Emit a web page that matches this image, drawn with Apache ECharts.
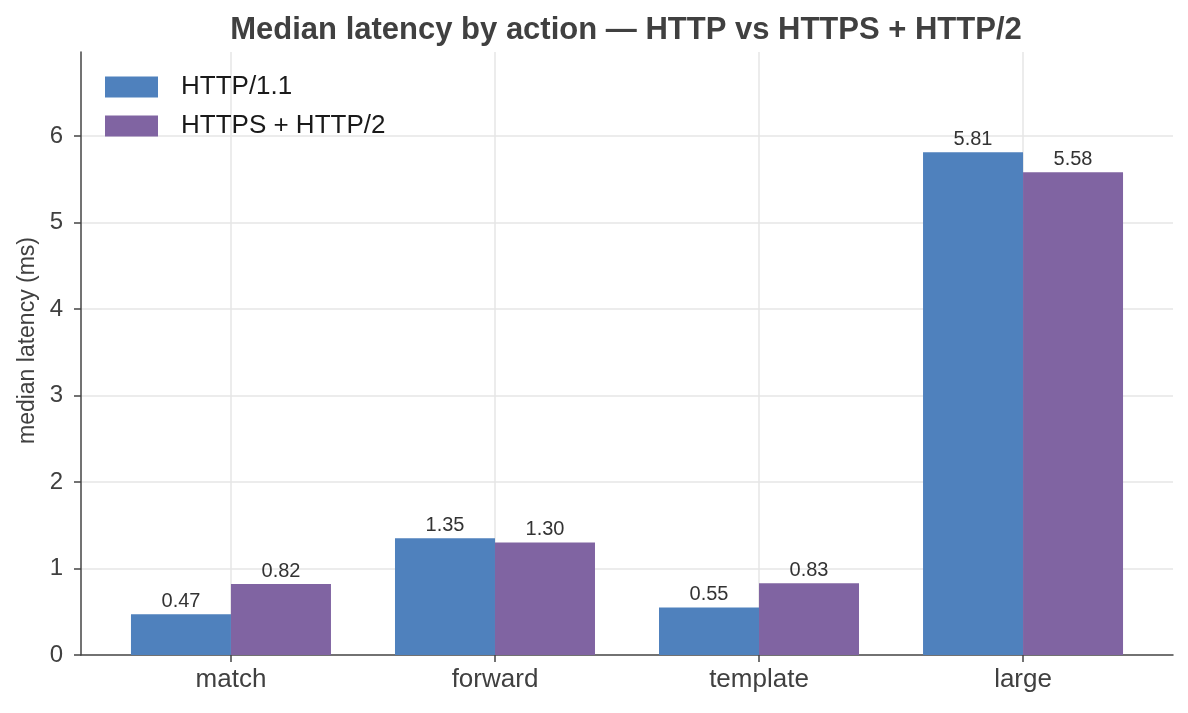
<!DOCTYPE html>
<html>
<head>
<meta charset="utf-8">
<script src="https://cdn.jsdelivr.net/npm/echarts@6/dist/echarts.min.js"></script>
<style>
  html, body { margin: 0; padding: 0; background: #fff; }
  #chart { width: 1188px; height: 713px; }
</style>
</head>
<body>
<div id="chart"></div>
<script>
// 数据
const categories = ['match', 'forward', 'template', 'large'];
const http11 = [0.47, 1.35, 0.55, 5.81];
const https2 = [0.82, 1.30, 0.83, 5.58];
const yTicks = [0, 1, 2, 3, 4, 5, 6];
const xTicks = [0, 1, 2, 3];

const textColor = '#404040';
const fontFamily = 'Liberation Sans, Arial, sans-serif';
const colorList = ['#4f81bd', '#8064a2'];

// 类目放在数值轴的 0..n-1 上
function toPoints(list) {
  return list.map((v, i) => [i, v]);
}

const chart = echarts.init(document.getElementById('chart'));

const labelOpt = {
  show: true,
  position: 'top',
  distance: 3,
  color: '#333',
  fontSize: 20,
  fontFamily: fontFamily,
  formatter: p => p.value[1].toFixed(2)
};

const option = {
  backgroundColor: '#fff',
  animation: false,
  color: colorList,
  title: {
    text: 'Median latency by action — HTTP vs HTTPS + HTTP/2',
    left: 626,
    textAlign: 'center',
    top: 15,
    padding: 0,
    textStyle: { color: textColor, fontSize: 31, fontWeight: 'bold', fontFamily: fontFamily }
  },
  legend: {
    orient: 'vertical',
    left: 105,
    top: 74,
    padding: 0,
    itemWidth: 53,
    itemHeight: 21,
    itemGap: 13,
    icon: 'rect',
    textStyle: { color: '#1a1a1a', fontSize: 26, lineHeight: 26, fontFamily: fontFamily, padding: [0, 0, 0, 18] },
    data: ['HTTP/1.1', 'HTTPS + HTTP/2']
  },
  grid: { left: 81, right: 15, top: 52, bottom: 58, containLabel: false },
  xAxis: {
    type: 'value',
    min: -0.568,
    max: 3.568,
    axisLine: { show: true, onZero: false, lineStyle: { color: '#444', width: 1.5 } },
    axisTick: { show: true, length: 7, lineStyle: { color: '#444', width: 1.5 }, customValues: xTicks },
    axisLabel: {
      customValues: xTicks,
      color: textColor, fontSize: 26, fontFamily: fontFamily, margin: 12,
      formatter: v => categories[Math.round(v)] || ''
    },
    splitLine: { show: true, lineStyle: { color: '#e6e6e6', width: 1.5 } }
  },
  yAxis: {
    type: 'value',
    min: 0,
    max: 6.97,
    name: 'median latency (ms)',
    nameLocation: 'middle',
    nameGap: 33,
    nameTextStyle: { color: textColor, fontSize: 23, fontFamily: fontFamily, padding: [0, 0, 0, 26] },
    axisLine: { show: true, onZero: false, lineStyle: { color: '#444', width: 1.5 } },
    axisTick: { show: true, length: 7, lineStyle: { color: '#444', width: 1.5 }, customValues: yTicks },
    axisLabel: { customValues: yTicks, color: textColor, fontSize: 24, fontFamily: fontFamily, margin: 18 },
    splitLine: { show: true, showMinLine: false, lineStyle: { color: '#e6e6e6', width: 1.5 } }
  },
  series: [
    {
      name: 'HTTP/1.1',
      type: 'bar',
      barWidth: 100,
      barGap: '0%',
      data: toPoints(http11),
      label: labelOpt
    },
    {
      name: 'HTTPS + HTTP/2',
      type: 'bar',
      barWidth: 100,
      barGap: '0%',
      data: toPoints(https2),
      label: labelOpt
    }
  ]
};

chart.setOption(option);
</script>
</body>
</html>
